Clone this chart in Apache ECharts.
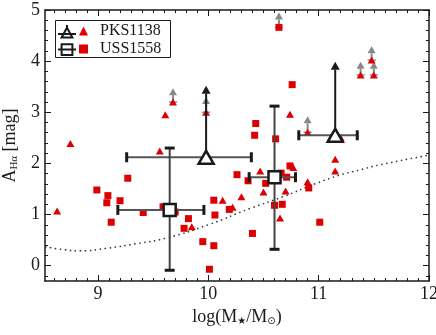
<!DOCTYPE html>
<html>
<head>
<meta charset="utf-8">
<script src="https://cdn.jsdelivr.net/npm/echarts@6/dist/echarts.min.js"></script>
<style>
  html, body { margin: 0; padding: 0; background: #fff; }
  #chart { width: 436px; height: 335px; }
</style>
</head>
<body>
<div id="chart"></div>
<script>
// red triangles (PKS1138), lim = lower limit arrow tip (null = none)
var pksX   = [8.63, 8.75, 9.56, 9.61, 9.68, 9.98, 9.85, 10.13, 10.22, 10.30, 10.47, 10.50, 10.65, 10.70, 10.74, 10.77, 10.90, 10.90, 11.11, 11.20, 11.15, 11.15, 11.38, 11.50, 11.48];
var pksY   = [1.07, 2.39, 2.24, 2.95, 3.20, 3.00, 0.76, 1.28, 1.14, 1.35, 1.85, 1.44, 0.93, 1.46, 2.96, 1.92, 1.64, 2.61, 2.50, 2.50, 2.08, 1.85, 3.73, 3.73, 4.02];
var pksLim = [null, null, null, null, 3.47, 3.30, null, null, null, null, null, null, null, null, null, null, null, 2.92, null, null, null, null, 3.99, 3.99, 4.29];

// red squares (USS1558)
var ussX   = [8.99, 9.08, 9.09, 9.12, 9.20, 9.27, 9.41, 9.59, 9.70, 9.78, 9.82, 9.95, 10.01, 10.05, 10.05, 10.06, 10.19, 10.26, 10.36, 10.40, 10.42, 10.43, 10.52, 10.60, 10.61, 10.64, 10.67, 10.66, 10.71, 10.74, 10.76, 10.91, 11.01];
var ussY   = [1.48, 1.23, 1.37, 0.85, 1.27, 1.71, 1.04, 1.15, 1.05, 0.73, 0.92, 0.47, -0.07, 0.39, 1.28, 0.99, 1.10, 1.78, 1.66, 0.63, 2.55, 2.78, 1.61, 1.18, 2.48, 4.66, 1.20, 1.81, 1.73, 1.95, 3.54, 1.52, 0.85];
var ussLim = [null, null, null, null, null, null, null, null, null, null, null, null, null, null, null, null, null, null, null, null, null, null, null, null, null, 4.95, null, null, null, null, null, null, null];

// stacked means
var pksMeanX   = [9.98, 11.15];
var pksMeanY   = [2.12, 2.55];
var pksMeanXLo = [9.26, 10.82];
var pksMeanXHi = [10.39, 11.35];
var pksMeanLim = [3.52, 3.99];

var ussMeanX   = [9.65, 10.60];
var ussMeanY   = [1.09, 1.73];
var ussMeanXLo = [9.18, 10.37];
var ussMeanXHi = [9.96, 10.79];
var ussMeanYLo = [-0.09, 0.32];
var ussMeanYHi = [2.30, 3.12];

// dotted curve
var curveX = [8.52, 8.70, 8.84, 9.08, 9.35, 9.62, 10.0, 10.38, 10.68, 10.98, 11.19, 11.37, 11.55, 12.0];
var curveY = [0.37, 0.31, 0.29, 0.34, 0.43, 0.54, 0.80, 1.12, 1.35, 1.61, 1.77, 1.87, 1.97, 2.16];

// axes
var X_MIN = 8.52, X_MAX = 12;
var Y_MIN = -0.3, Y_MAX = 5;
var xTicks = [9, 10, 11, 12];
var yTicks = [0, 1, 2, 3, 4, 5];

var xMinor = [];
for (var i = 86; i < 120; i++) { if (i % 10) xMinor.push(i / 10); }
var yMinor = [];
for (var j = -1; j < 25; j++) { if (j % 5) yMinor.push(j / 5); }

var FONT = 'Liberation Serif';
var INK = '#1a1a1a';
var RED = '#dd0000';

function xAx(pos, ticks, len, main) {
  return {
    type: 'value', position: pos, min: X_MIN, max: X_MAX,
    axisLine: { show: main, onZero: false, lineStyle: { color: INK, width: 1.5 } },
    axisTick: { show: true, inside: true, length: len, customValues: ticks, lineStyle: { color: INK, width: 1 } },
    axisLabel: { show: main && pos == 'bottom', customValues: xTicks, fontFamily: FONT, fontSize: 18, color: INK, margin: 4 },
    splitLine: { show: false },
    name: main && pos == 'bottom' ? '{t|log(M}{s|★}{t|/M}{s|⊙}{t|)}' : '',
    nameLocation: 'middle', nameGap: 24,
    nameTextStyle: {
      rich: {
        t: { fontFamily: FONT, fontSize: 18, color: INK },
        s: { fontFamily: 'DejaVu Sans', fontSize: 10, color: INK, padding: [9, 0, 0, 0] }
      }
    }
  };
}
function yAx(pos, ticks, len, main) {
  return {
    type: 'value', position: pos, min: Y_MIN, max: Y_MAX,
    axisLine: { show: main, onZero: false, lineStyle: { color: INK, width: 1.5 } },
    axisTick: { show: true, inside: true, length: len, customValues: ticks, lineStyle: { color: INK, width: 1 } },
    axisLabel: { show: main && pos == 'left', customValues: yTicks, fontFamily: FONT, fontSize: 18, color: INK, margin: 5 },
    splitLine: { show: false },
    name: main && pos == 'left' ? '{t|A}{s|Hα}{t| [mag]}' : '',
    nameLocation: 'middle', nameGap: 20, nameRotate: 90,
    nameTextStyle: {
      rich: {
        t: { fontFamily: FONT, fontSize: 18, color: INK },
        s: { fontFamily: FONT, fontSize: 11, color: INK, padding: [8, 0, 0, 0] }
      }
    }
  };
}

function seg(x1, y1, x2, y2, w, col) {
  return { type: 'line', shape: { x1: x1, y1: y1, x2: x2, y2: y2 }, style: { stroke: col, lineWidth: w } };
}
function arrowItem(col, lw, hw, hh, base) {
  return function (params, api) {
    var p = api.coord([api.value(0), api.value(1)]);
    var t = api.coord([api.value(0), api.value(2)]);
    var kids = [seg(p[0], p[1], p[0], t[1] + hh, lw, col)];
    if (base) kids.push(seg(p[0] - 4, p[1], p[0] + 4, p[1], 1.5, col));
    kids.push({ type: 'polygon', shape: { points: [[t[0], t[1]], [t[0] - hw / 2, t[1] + hh], [t[0] + hw / 2, t[1] + hh]] }, style: { fill: col } });
    return { type: 'group', children: kids };
  };
}
function xErrItem(params, api) {
  var a = api.coord([api.value(2), api.value(1)]);
  var b = api.coord([api.value(3), api.value(1)]);
  return { type: 'group', children: [
    seg(a[0], a[1], b[0], b[1], 2, '#555'),
    seg(a[0], a[1] - 5, a[0], a[1] + 5, 3, INK),
    seg(b[0], b[1] - 5, b[0], b[1] + 5, 3, INK)
  ] };
}
function yErrItem(params, api) {
  var a = api.coord([api.value(0), api.value(1)]);
  var b = api.coord([api.value(0), api.value(2)]);
  return { type: 'group', children: [
    seg(a[0], a[1], b[0], b[1], 2, '#444'),
    seg(a[0] - 5, a[1], a[0] + 5, a[1], 3, INK),
    seg(b[0] - 5, b[1], b[0] + 5, b[1], 3, INK)
  ] };
}

var limData = [];
pksX.forEach(function (x, k) { if (pksLim[k] != null) limData.push([x, pksY[k], pksLim[k]]); });
ussX.forEach(function (x, k) { if (ussLim[k] != null) limData.push([x, ussY[k], ussLim[k]]); });

var xErrData = [], yErrData = [], meanArrow = [];
pksMeanX.forEach(function (x, k) {
  xErrData.push([x, pksMeanY[k], pksMeanXLo[k], pksMeanXHi[k]]);
  meanArrow.push([x, pksMeanY[k], pksMeanLim[k]]);
});
ussMeanX.forEach(function (x, k) {
  xErrData.push([x, ussMeanY[k], ussMeanXLo[k], ussMeanXHi[k]]);
  yErrData.push([x, ussMeanYLo[k], ussMeanYHi[k]]);
});

function zip(a, b) { return a.map(function (v, k) { return [v, b[k]]; }); }

var chart = echarts.init(document.getElementById('chart'), null, { renderer: 'canvas' });
chart.setOption({
  animation: false,
  backgroundColor: '#fff',
  grid: { left: 45, right: 7, top: 10, bottom: 54, containLabel: false, outerBoundsMode: 'none' },
  xAxis: [
    xAx('bottom', xTicks, 6, true), xAx('bottom', xMinor, 3, false),
    xAx('top', xTicks, 6, true), xAx('top', xMinor, 3, false)
  ],
  yAxis: [
    yAx('left', yTicks, 6, true), yAx('left', yMinor, 3, false),
    yAx('right', yTicks, 6, true), yAx('right', yMinor, 3, false)
  ],
  graphic: [{
    type: 'rect', left: 53, top: 18, z: 10, silent: true,
    shape: { width: 115, height: 37 },
    style: { fill: 'none', stroke: INK, lineWidth: 1 }
  }],
  legend: [
    {
      left: 57, top: 24, padding: 0, orient: 'vertical', itemWidth: 18, itemHeight: 14, itemGap: 4,
      selectedMode: false, formatter: function () { return ''; },
      data: [
        { name: 'PKS1138 mean', icon: 'path://M0,10H20M10,0V4M10,3L16,14H4Z' },
        { name: 'USS1558 mean', icon: 'path://M0,8H20M4,2H16V14H4Z' }
      ]
    },
    {
      left: 79, top: 23, padding: 0, orient: 'vertical', itemWidth: 9, itemHeight: 9, itemGap: 2,
      selectedMode: false,
      formatter: function (name) { return '{g|}{n|' + name + '}'; },
      textStyle: {
        lineHeight: 16,
        rich: {
          g: { width: 7 },
          n: { fontFamily: FONT, fontSize: 16, color: INK, lineHeight: 16 }
        }
      },
      data: ['PKS1138', 'USS1558']
    }
  ],
  series: [
    {
      type: 'line', name: 'curve', data: zip(curveX, curveY), smooth: true, showSymbol: false, silent: true,
      lineStyle: { color: '#333', width: 1.5, type: [1.5, 3.5] }, z: 1
    },
    { type: 'custom', name: 'limits', data: limData, renderItem: arrowItem('#888', 2, 8, 7, true), z: 2 },
    {
      type: 'scatter', name: 'PKS1138', data: zip(pksX, pksY), symbol: 'triangle', symbolSize: [8, 7],
      itemStyle: { color: RED, opacity: 1 }, z: 3
    },
    {
      type: 'scatter', name: 'USS1558', data: zip(ussX, ussY), symbol: 'rect', symbolSize: 7,
      itemStyle: { color: RED, opacity: 1 }, z: 3
    },
    { type: 'custom', name: 'xerr', data: xErrData, renderItem: xErrItem, z: 4 },
    { type: 'custom', name: 'yerr', data: yErrData, renderItem: yErrItem, z: 4 },
    { type: 'custom', name: 'meanlim', data: meanArrow, renderItem: arrowItem(INK, 2, 9, 8, false), z: 4 },
    {
      type: 'scatter', name: 'PKS1138 mean', data: zip(pksMeanX, pksMeanY), symbol: 'triangle', symbolSize: [15, 13],
      itemStyle: { color: '#fff', borderColor: INK, borderWidth: 2.5, opacity: 1 }, z: 5
    },
    {
      type: 'scatter', name: 'USS1558 mean', data: zip(ussMeanX, ussMeanY), symbol: 'rect', symbolSize: 12,
      itemStyle: { color: '#fff', borderColor: INK, borderWidth: 2.5, opacity: 1 }, z: 5
    }
  ]
});
</script>
</body>
</html>
